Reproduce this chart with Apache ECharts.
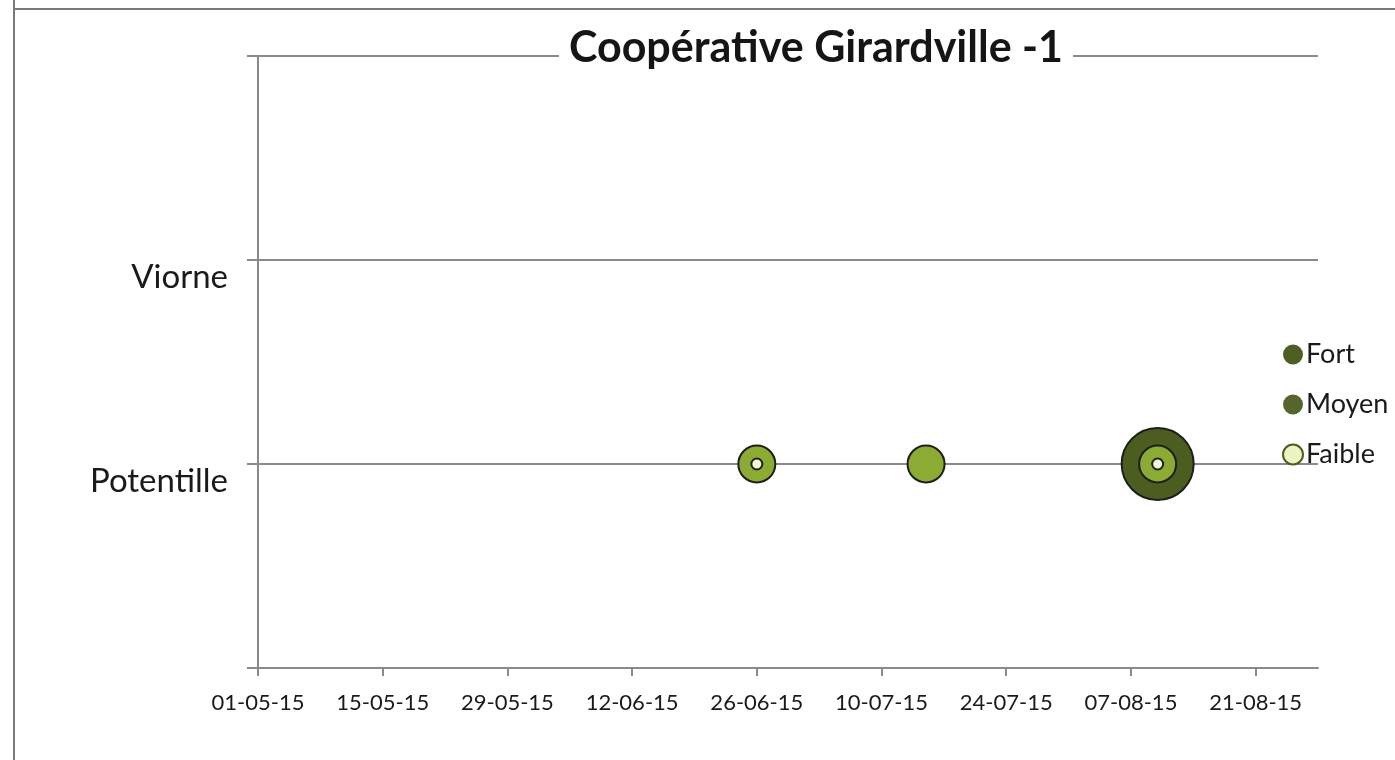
<!DOCTYPE html>
<html><head><meta charset="utf-8">
<script src="https://cdn.jsdelivr.net/npm/echarts@6/dist/echarts.min.js"></script>
<style>html,body{margin:0;padding:0;background:#fff}#c{width:1395px;height:760px}</style>
</head><body><div id="c"></div>
<script>
// ---- data ----
const startDate = '2015-05-01';
const endDate = '2015-08-28';
const tickStepDays = 14;
const yCategories = ['', 'Potentille', 'Viorne', ''];
const fortPoints = [['2015-08-10', 'Potentille']];
const moyenPoints = [['2015-06-26', 'Potentille'], ['2015-07-15', 'Potentille'], ['2015-08-10', 'Potentille']];
const faiblePoints = [['2015-06-26', 'Potentille'], ['2015-08-10', 'Potentille']];
const seriesNames = ['Fort', 'Moyen', 'Faible'];

// ---- helpers ----
const DAY = 86400000;
const sp = startDate.split('-').map(Number);
const t0 = Date.UTC(sp[0], sp[1] - 1, sp[2]);
function dayIndex(s) { const p = s.split('-').map(Number); return Math.round((Date.UTC(p[0], p[1] - 1, p[2]) - t0) / DAY); }
function fmt(d) { const dt = new Date(t0 + d * DAY); const p = n => String(n).padStart(2, '0'); return p(dt.getUTCDate()) + '-' + p(dt.getUTCMonth() + 1) + '-' + String(dt.getUTCFullYear()).slice(2); }
function toXY(arr) { return arr.map(([d, c]) => [dayIndex(d), yCategories.indexOf(c)]); }

const FONT = 'Lato';
const border = { borderColor: '#1e1e1e', borderWidth: 2 };
const chart = echarts.init(document.getElementById('c'));
chart.setOption({
  animation: false,
  backgroundColor: '#fff',
  title: {
    text: 'Coopérative Girardville -1',
    left: 806, top: 27, textAlign: 'center',
    backgroundColor: '#fff', padding: [0, 10],
    textStyle: { fontFamily: FONT, fontWeight: 'bold', fontSize: 43, color: '#151515' }
  },
  grid: { left: 258, right: 77, top: 56, bottom: 92 },
  legend: {
    orient: 'vertical', left: 1277, top: 336, itemGap: 23,
    itemWidth: 20, itemHeight: 20, icon: 'circle',
    textStyle: { fontFamily: FONT, fontSize: 27, color: '#1a1a1a', padding: [0, 0, 0, -2] },
    data: [
      { name: seriesNames[0], itemStyle: { color: '#4e5e23', borderWidth: 0 } },
      { name: seriesNames[1], itemStyle: { color: '#56652a', borderWidth: 0 } },
      { name: seriesNames[2], itemStyle: { color: '#eef3c2', borderColor: '#4e5e23', borderWidth: 2 } }
    ]
  },
  xAxis: {
    type: 'value', min: 0, max: dayIndex(endDate), interval: tickStepDays,
    axisLine: { show: true, lineStyle: { color: '#8a8a8a', width: 2 } },
    axisTick: { show: true, length: 8, lineStyle: { color: '#8a8a8a', width: 2 } },
    splitLine: { show: false },
    axisLabel: {
      margin: 24, showMaxLabel: false, fontFamily: FONT, fontSize: 22, color: '#1a1a1a',
      formatter: v => (v % tickStepDays === 0 ? fmt(v) : '')
    }
  },
  yAxis: {
    type: 'value', min: 0, max: yCategories.length - 1, interval: 1,
    axisLine: { show: true, lineStyle: { color: '#8a8a8a', width: 2 } },
    axisTick: { show: true, length: 11, lineStyle: { color: '#8a8a8a', width: 2 } },
    splitLine: { show: true, lineStyle: { color: '#8a8a8a', width: 2 } },
    axisLabel: {
      margin: 30, fontFamily: FONT, fontSize: 33, color: '#1a1a1a', verticalAlign: 'top',
      padding: [1, 0, 0, 0],
      formatter: v => yCategories[v] || ''
    }
  },
  graphic: [
    { type: 'line', shape: { x1: 14, y1: 0, x2: 14, y2: 760 }, style: { stroke: '#7a7a7a', lineWidth: 2 } },
    { type: 'line', shape: { x1: 14, y1: 9, x2: 1395, y2: 9 }, style: { stroke: '#7a7a7a', lineWidth: 2 } }
  ],
  series: [
    { name: seriesNames[0], type: 'scatter', symbolSize: 72, z: 2, data: toXY(fortPoints), itemStyle: Object.assign({ color: '#4b5e1f', opacity: 1 }, border) },
    { name: seriesNames[1], type: 'scatter', symbolSize: 37, z: 3, data: toXY(moyenPoints), itemStyle: Object.assign({ color: '#8cab33', opacity: 1 }, border) },
    { name: seriesNames[2], type: 'scatter', symbolSize: 11, z: 4, data: toXY(faiblePoints), itemStyle: Object.assign({ color: '#f2f6d2', opacity: 1 }, border) }
  ]
});
</script></body></html>
